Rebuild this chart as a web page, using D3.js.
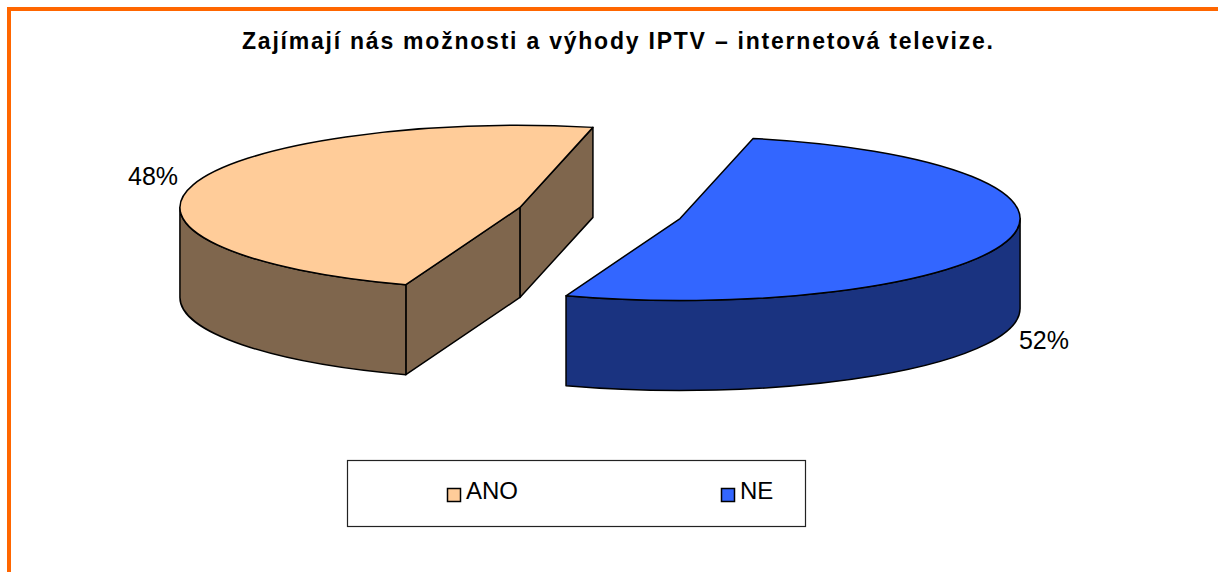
<!DOCTYPE html>
<html>
<head>
<meta charset="utf-8">
<script src="https://cdn.jsdelivr.net/npm/d3@7"></script>
<style>
  body { margin: 0; background: #fff; }
  svg { display: block; font-family: "Liberation Sans", Arial, sans-serif; }
</style>
</head>
<body>
<div id="chart"></div>
<script>
// data
const title = "Zajímají nás možnosti a výhody IPTV – internetová televize.";
const categories = ["ANO", "NE"];
const values = [48, 52];
const topColors = ["#FFCC99", "#3366FF"];
const sideColors = ["#7F664D", "#1A3380"];

const width = 1218, height = 572;

// pie geometry (orthographic tilt)
const cx = 600, cy = 213;
const rx = 340, ry = 82;
const depth = 90;
const explode = 0.245;
const startDeg = 199.6;

const svg = d3.select("#chart").append("svg")
    .attr("width", width)
    .attr("height", height);

// orange frame, runs off the right and bottom edge
svg.append("rect")
    .attr("x", 9).attr("y", 9)
    .attr("width", 1300).attr("height", 700)
    .attr("fill", "none")
    .attr("stroke", "#FF6600")
    .attr("stroke-width", 4);

svg.append("text")
    .attr("x", 242).attr("y", 49)
    .attr("textLength", 751)
    .attr("lengthAdjust", "spacing")
    .attr("font-size", 23)
    .attr("font-weight", "bold")
    .text(title);

const topColor = d3.scaleOrdinal().domain(categories).range(topColors);
const sideColor = d3.scaleOrdinal().domain(categories).range(sideColors);

const pie = d3.pie()
    .sort(null)
    .value((d, i) => values[i])
    .startAngle(startDeg * Math.PI / 180)
    .endAngle(startDeg * Math.PI / 180 + 2 * Math.PI);

const arcs = pie(categories);

// point on the rim, angle 0 at top, clockwise
function pt(a, ox, oy, dz) {
    return [cx + ox + rx * Math.sin(a), cy + oy - ry * Math.cos(a) + (dz || 0)];
}

function arcTo(p, large, sweep) {
    return "A" + rx + "," + ry + " 0 " + large + "," + sweep + " " + p[0] + "," + p[1];
}

const g = svg.append("g")
    .attr("stroke", "#000")
    .attr("stroke-width", 1.5)
    .attr("stroke-linejoin", "round");

arcs.forEach(function (d) {
    let name = d.data;
    let a0 = d.startAngle, a1 = d.endAngle;
    let mid = (a0 + a1) / 2;
    let ox = explode * rx * Math.sin(mid),
        oy = -explode * ry * Math.cos(mid);
    let c = [cx + ox, cy + oy];
    d.ox = ox; d.oy = oy; d.mid = mid;

    // radial cut faces that look to the front
    let faces = [];
    if (Math.sin(a0) < 0) faces.push(a0);
    if (Math.sin(a1) > 0) faces.push(a1);
    faces.sort((p, q) => pt(p, ox, oy)[1] - pt(q, ox, oy)[1]);
    faces.forEach(function (a) {
        let p = pt(a, ox, oy);
        g.append("path")
            .attr("d", "M" + c + "L" + p + "L" + [p[0], p[1] + depth] +
                "L" + [c[0], c[1] + depth] + "Z")
            .attr("fill", sideColor(name));
    });

    // outer wall, only the front half (90..270 deg)
    for (let k = -1; k <= 1; k++) {
        let f0 = Math.PI / 2 + k * 2 * Math.PI, f1 = 3 * Math.PI / 2 + k * 2 * Math.PI;
        let b0 = Math.max(a0, f0), b1 = Math.min(a1, f1);
        if (b1 <= b0) continue;
        let p0 = pt(b0, ox, oy), p1 = pt(b1, ox, oy);
        let q0 = pt(b0, ox, oy, depth), q1 = pt(b1, ox, oy, depth);
        g.append("path")
            .attr("d", "M" + p0 + arcTo(p1, 0, 1) + "L" + q1 + arcTo(q0, 0, 0) + "Z")
            .attr("fill", sideColor(name));
    }

    // top face
    let s = pt(a0, ox, oy), e = pt(a1, ox, oy);
    g.append("path")
        .attr("d", "M" + c + "L" + s + arcTo(e, (a1 - a0) > Math.PI ? 1 : 0, 1) + "Z")
        .attr("fill", topColor(name));
});

// percent labels
arcs.forEach(function (d) {
    let p = pt(d.mid, d.ox, d.oy);
    let left = Math.sin(d.mid) < 0;
    let pct = Math.round(100 * values[d.index] / d3.sum(values)) + "%";
    svg.append("text")
        .attr("x", left ? p[0] - 15 : p[0] + 12)
        .attr("y", left ? p[1] : p[1] + depth + 18)
        .attr("text-anchor", left ? "end" : "start")
        .attr("font-size", 25)
        .attr("fill", "#000")
        .text(pct);
});

// legend
const legend = svg.append("g");
legend.append("rect")
    .attr("x", 347.5).attr("y", 460.5)
    .attr("width", 458).attr("height", 66)
    .attr("fill", "#fff")
    .attr("stroke", "#222")
    .attr("stroke-width", 1.2);

const lx = d3.scalePoint().domain(categories).range([447, 721]);

const item = legend.selectAll(".item")
    .data(categories)
    .enter().append("g")
    .attr("class", "item")
    .attr("transform", d => "translate(" + lx(d) + ",488)");

item.append("rect")
    .attr("x", 0.5).attr("y", 0.5)
    .attr("width", 13).attr("height", 13)
    .attr("fill", d => topColor(d))
    .attr("stroke", "#000")
    .attr("stroke-width", 1.5);

item.append("text")
    .attr("x", 19).attr("y", 11)
    .attr("font-size", 24)
    .text(d => d);
</script>
</body>
</html>
